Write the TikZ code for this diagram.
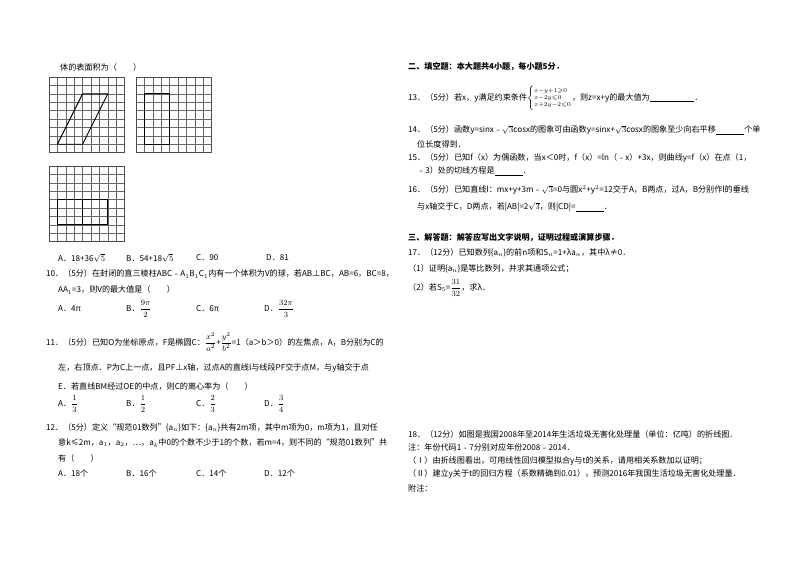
\documentclass[tikz,border=0pt]{standalone}
\usepackage{amsmath,amssymb}
\usepackage{fontspec}
\setmainfont{Noto Sans CJK SC}
\begin{document}
\begin{tikzpicture}[x=1pt,y=-1pt,
  txt/.style={anchor=west,inner sep=0pt,font=\fontsize{8.1}{9}\selectfont},
  bold/.style={txt,font=\fontsize{8.1}{9}\selectfont\bfseries},
  gridline/.style={draw=black!60,line width=0.5pt},
  figline/.style={draw=black,line width=0.9pt}]
\useasboundingbox[fill=white] (0,0) rectangle (800,565);
% grids
\foreach \gx/\gy in {49/77,136/77,49/166}{
  \begin{scope}[shift={(\gx,\gy)},x=8.4pt,y=-8.4pt]
    \foreach \i in {1,...,8}{
      \draw[gridline] (\i,0) -- (\i,9);
      \draw[gridline] (0,\i) -- (9,\i);}
    \draw[line width=0.8pt,black!70] (0,0) rectangle (9,9);
  \end{scope}}
\begin{scope}[shift={(49,77)},x=8.4pt,y=-8.4pt]
  \draw[figline] (1,8) -- (4,8) -- (7,2) -- (4,2) -- cycle;
\end{scope}
\begin{scope}[shift={(136,77)},x=8.4pt,y=-8.4pt]
  \draw[figline] (1,2) rectangle (4,8);
\end{scope}
\begin{scope}[shift={(49,166)},x=8.4pt,y=-8.4pt]
  \draw[figline] (1,4) rectangle (4,7);
  \draw[figline] (4,4) rectangle (7,7);
\end{scope}
% left column
\node[txt] (t0) at (60,67) {体的表面积为（\quad\quad）};
\node[txt] (o9a) at (58,258) {A．18+36$\sqrt{5}$};
\node[txt] (o9b) at (126,258) {B．54+18$\sqrt{5}$};
\node[txt] (o9c) at (196,258) {C．90};
\node[txt] (o9d) at (266,258) {D．81};
\node[txt] (q10) at (46,274) {10．（5分）在封闭的直三棱柱ABC﹣A$_1$B$_1$C$_1$内有一个体积为V的球，若AB⊥BC，AB=6，BC=8，};
\node[txt] (q10b) at (58,290) {AA$_1$=3，则V的最大值是（\quad\quad）};
\node[txt] (o10a) at (58,309) {A．4π};
\node[txt] (o10b) at (126,309) {B．$\dfrac{9\pi}{2}$};
\node[txt] (o10c) at (196,309) {C．6π};
\node[txt] (o10d) at (264,309) {D．$\dfrac{32\pi}{3}$};
\node[txt] (q11) at (46,342) {11．（5分）已知O为坐标原点，F是椭圆C：$\dfrac{x^2}{a^2}$+$\dfrac{y^2}{b^2}$=1（a＞b＞0）的左焦点，A，B分别为C的};
\node[txt] (q11b) at (58,368) {左，右顶点．P为C上一点，且PF⊥x轴，过点A的直线l与线段PF交于点M，与y轴交于点};
\node[txt] (q11c) at (58,386) {E．若直线BM经过OE的中点，则C的离心率为（\quad\quad）};
\node[txt] (o11a) at (58,404) {A．$\dfrac{1}{3}$};
\node[txt] (o11b) at (126,404) {B．$\dfrac{1}{2}$};
\node[txt] (o11c) at (196,404) {C．$\dfrac{2}{3}$};
\node[txt] (o11d) at (264,404) {D．$\dfrac{3}{4}$};
\node[txt] (q12) at (46,428) {12．（5分）定义“规范01数列”\{a$_n$\}如下：\{a$_n$\}共有2m项，其中m项为0，m项为1，且对任};
\node[txt] (q12b) at (58,443) {意k≤2m，a$_1$，a$_2$，…，a$_k$中0的个数不少于1的个数，若m=4，则不同的“规范01数列”共};
\node[txt] (q12c) at (58,458) {有（\quad\quad）};
\node[txt] (o12a) at (58,473) {A．18个};
\node[txt] (o12b) at (126,473) {B．16个};
\node[txt] (o12c) at (196,473) {C．14个};
\node[txt] (o12d) at (264,473) {D．12个};
% right column
\node[bold] (s2) at (408,67) {二、填空题：本大题共4小题，每小题5分．};
\node[txt] (q13) at (408,98) {13．（5分）若x，y满足约束条件$\left\{\begin{array}{@{}l@{}}\scriptstyle x-y+1\geqslant0\\[-2pt] \scriptstyle x-2y\leqslant0\\[-2pt] \scriptstyle x+2y-2\leqslant0\end{array}\right.$，则z=x+y的最大值为\underline{\hspace{5.5em}}．};
\node[txt] (q14) at (408,130) {14．（5分）函数y=sinx﹣$\sqrt{3}$cosx的图象可由函数y=sinx+$\sqrt{3}$cosx的图象至少向右平移\underline{\hspace{3.5em}}个单};
\node[txt] (q14b) at (417,144) {位长度得到．};
\node[txt] (q15) at (408,158) {15．（5分）已知f（x）为偶函数，当x＜0时，f（x）=ln（﹣x）+3x，则曲线y=f（x）在点（1，};
\node[txt] (q15b) at (417,171) {﹣3）处的切线方程是\underline{\hspace{3.5em}}．};
\node[txt] (q16) at (408,190) {16．（5分）已知直线l：mx+y+3m﹣$\sqrt{3}$=0与圆x$^2$+y$^2$=12交于A，B两点，过A，B分别作l的垂线};
\node[txt] (q16b) at (417,207) {与x轴交于C，D两点，若|AB|=2$\sqrt{3}$，则|CD|=\underline{\hspace{3.5em}}．};
\node[bold] (s3) at (408,238) {三、解答题：解答应写出文字说明，证明过程或演算步骤．};
\node[txt] (q17) at (408,253) {17．（12分）已知数列\{a$_n$\}的前n项和S$_n$=1+λa$_n$，其中λ≠0．};
\node[txt] (q17a) at (408,269) {（1）证明\{a$_n$\}是等比数列，并求其通项公式；};
\node[txt] (q17b) at (408,288) {（2）若S$_5$=$\dfrac{31}{32}$，求λ．};
\node[txt] (q18) at (408,434) {18．（12分）如图是我国2008年至2014年生活垃圾无害化处理量（单位：亿吨）的折线图．};
\node[txt] (q18a) at (408,447) {注：年份代码1﹣7分别对应年份2008﹣2014．};
\node[txt] (q18b) at (408,461) {（Ⅰ）由折线图看出，可用线性回归模型拟合y与t的关系，请用相关系数加以证明；};
\node[txt] (q18c) at (408,474) {（Ⅱ）建立y关于t的回归方程（系数精确到0.01），预测2016年我国生活垃圾无害化处理量．};
\node[txt] (q18d) at (408,488) {附注：};
\end{tikzpicture}
\end{document}
